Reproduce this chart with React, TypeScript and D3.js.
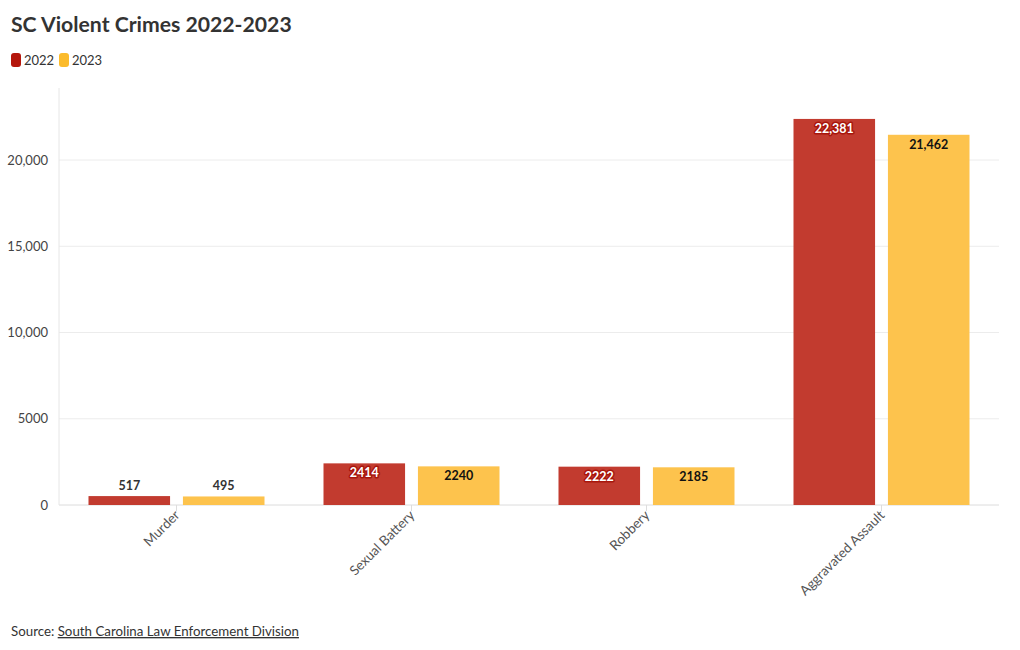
import React from "react";
import * as d3 from "d3";

const categories = ["Murder", "Sexual Battery", "Robbery", "Aggravated Assault"];
const series = ["2022", "2023"];
const values2022 = [517, 2414, 2222, 22381];
const values2023 = [495, 2240, 2185, 21462];
const yTicks = [0, 5000, 10000, 15000, 20000];

const W = 1020, H = 650;
const FONT = "'Source Sans Pro', Lato, 'Open Sans', sans-serif";
const barColors = ["#c23b2f", "#fdc34d"];
const legendColors = ["#b5170c", "#fbbb2c"];

export default function App() {
  const x = d3.scaleBand<string>().domain(categories).range([59, 999]).paddingInner(0).paddingOuter(0);
  const x1 = d3.scaleBand<string>().domain(series).range([-88, 88]).paddingInner(12 / 88).paddingOuter(0);
  const y = d3.scaleLinear().domain([0, 20000]).range([505, 160]);
  const top = 88;
  const fmt = (v: number) => (v >= 10000 ? d3.format(",")(v) : String(v));
  const data = [values2022, values2023];

  return (
    <svg width={W} height={H} style={{ position: "absolute", left: 0, top: 0, fontFamily: FONT }}>
      <text x={11} y={32} fontSize={21.2} fontWeight={700} fill="#333">SC Violent Crimes 2022-2023</text>
      {series.map((s, i) => (
        <g key={s} transform={`translate(${11 + i * 48},53)`}>
          <rect width={10} height={14} rx={3} fill={legendColors[i]} />
          <text x={13} y={12} fontSize={13} fill="#333">{s}</text>
        </g>
      ))}
      {yTicks.map((t) => (
        <g key={t}>
          <line x1={59} x2={999} y1={y(t)} y2={y(t)} stroke="#ececec" />
          <text x={48} y={y(t) + 4.5} textAnchor="end" fontSize={13} fill="#444">{d3.format(t >= 10000 ? "," : "d")(t)}</text>
        </g>
      ))}
      <line x1={59} x2={59} y1={top} y2={505} stroke="#e6e6e6" />
      <line x1={59} x2={999} y1={505} y2={505} stroke="#e6e6e6" />
      {categories.map((c, ci) => {
        const cx = x(c)! + x.bandwidth() / 2;
        return (
          <g key={c}>
            <line x1={cx} x2={cx} y1={505} y2={511} stroke="#ddd" />
            <text transform={`translate(${cx + 4},${516}) rotate(-45)`} textAnchor="end" fontSize={13.5} fill="#555">{c}</text>
            {series.map((s, si) => {
              const v = data[si][ci];
              const bx = cx + x1(s)!;
              const bw = x1.bandwidth();
              const by = y(v);
              const h = 505 - by;
              const inside = h > 20;
              const ly = inside ? by + 14 : by - 6;
              const isRed = si === 0;
              return (
                <g key={s}>
                  <rect x={bx} y={by} width={bw} height={h} fill={barColors[si]} />
                  <text
                    x={bx + bw / 2}
                    y={ly}
                    textAnchor="middle"
                    fontSize={12.5}
                    fontWeight={700}
                    fill={inside ? (isRed ? "#fff" : "#111") : "#333"}
                    stroke={inside ? (isRed ? "#a8160c" : "#fdc34d") : "none"}
                    strokeWidth={inside ? 3 : 0}
                    paintOrder="stroke"
                    strokeLinejoin="round"
                  >
                    {fmt(v)}
                  </text>
                </g>
              );
            })}
          </g>
        );
      })}
      <text x={11} y={636} fontSize={13.3} fill="#333">
        Source:{" "}
        <tspan textDecoration="underline" fill="#333">South Carolina Law Enforcement Division</tspan>
      </text>
    </svg>
  );
}
